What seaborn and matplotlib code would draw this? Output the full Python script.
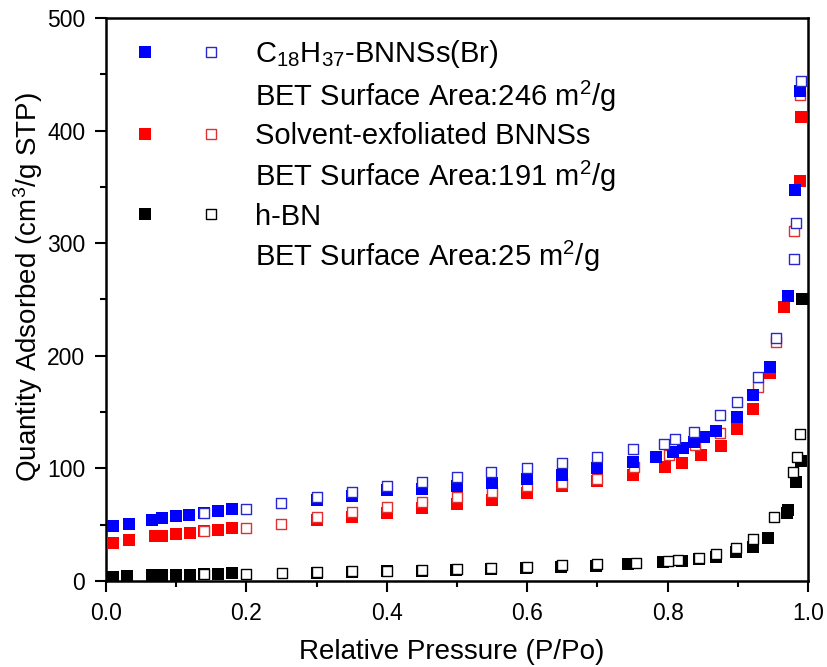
import matplotlib
matplotlib.use("Agg")
import matplotlib.pyplot as plt
import seaborn as sns
from matplotlib.lines import Line2D
from matplotlib.legend_handler import HandlerTuple
from matplotlib.ticker import MultipleLocator

# C18H37-BNNSs(Br): adsorption (filled) / desorption (open)
c18_ads_x = [0.01, 0.033, 0.065, 0.08, 0.10, 0.118, 0.14, 0.16, 0.18,
             0.30, 0.35, 0.40, 0.45, 0.50, 0.55, 0.60, 0.65, 0.70, 0.75,
             0.783, 0.808, 0.822, 0.838, 0.851, 0.869, 0.898, 0.921, 0.945,
             0.971, 0.981, 0.989]
c18_ads_y = [49, 51, 54, 55.5, 57.5, 58.5, 60.5, 62, 64,
             72, 75.5, 80.5, 82, 84, 87, 90.5, 94, 100.5, 105.5,
             110.5, 114.5, 118.5, 123, 128, 133.5, 146, 165, 190,
             253, 347, 435]
c18_des_x = [0.99, 0.983, 0.98, 0.954, 0.929, 0.898, 0.874, 0.838, 0.811,
             0.795, 0.751, 0.70, 0.65, 0.60, 0.549, 0.50, 0.45, 0.40, 0.35,
             0.30, 0.249, 0.199, 0.14]
c18_des_y = [444, 318, 286, 216, 181, 159, 147, 132, 126,
             122, 117, 110.5, 105, 100.5, 96.5, 92.5, 88, 84.5, 79,
             74.5, 69, 64, 60.5]

# Solvent-exfoliated BNNSs
sol_ads_x = [0.01, 0.033, 0.07, 0.08, 0.10, 0.12, 0.14, 0.16, 0.18,
             0.30, 0.35, 0.40, 0.45, 0.50, 0.55, 0.60, 0.65, 0.70, 0.75,
             0.796, 0.821, 0.848, 0.876, 0.898, 0.921, 0.946, 0.966, 0.988, 0.99]
sol_ads_y = [34, 36, 39.5, 40, 41.5, 43, 44, 45.3, 47,
             54, 57, 60, 64.5, 68.5, 72, 78.5, 84, 89, 94,
             101, 105, 112, 120, 135, 152.5, 185, 243, 355, 412]
sol_des_x = [0.988, 0.98, 0.954, 0.929, 0.875, 0.839, 0.802, 0.752, 0.70,
             0.65, 0.60, 0.55, 0.50, 0.45, 0.40, 0.35, 0.30, 0.249, 0.199, 0.14]
sol_des_y = [432, 311, 212, 172, 131, 121, 111.5, 101.5, 90.5,
             87, 84, 79, 74.5, 70.5, 65.5, 61.5, 56.5, 51, 47, 44.5]

# h-BN
hbn_ads_x = [0.01, 0.03, 0.065, 0.08, 0.10, 0.12, 0.14, 0.16, 0.18,
             0.30, 0.35, 0.40, 0.45, 0.498, 0.548, 0.598, 0.648, 0.698, 0.744,
             0.794, 0.82, 0.844, 0.869, 0.897, 0.922, 0.943, 0.97, 0.972,
             0.983, 0.99, 0.991]
hbn_ads_y = [3.8, 4.5, 5, 5, 5.5, 5.6, 6, 6.2, 7,
             7.2, 8, 8.6, 9, 9.8, 10.5, 11.3, 12.5, 13.5, 14.8,
             17, 18, 19.5, 21, 26, 30, 38, 60, 63,
             88, 106.5, 250]
hbn_des_x = [0.988, 0.984, 0.979, 0.952, 0.922, 0.897, 0.869, 0.844, 0.815,
             0.80, 0.755, 0.70, 0.65, 0.60, 0.549, 0.50, 0.45, 0.40, 0.35,
             0.30, 0.25, 0.20, 0.14]
hbn_des_y = [130.5, 110, 97, 57, 37, 29, 24, 20.5, 18.6,
             18, 16.3, 14.8, 13.8, 12.3, 11.2, 10.7, 9.5, 9.2, 8.6,
             7.7, 7.1, 6.5, 6.2]

labels = ["C$_{18}$H$_{37}$-BNNSs(Br)", "BET Surface Area:246 m$^2$/g",
          "Solvent-exfoliated BNNSs", "BET Surface Area:191 m$^2$/g",
          "h-BN", "BET Surface Area:25 m$^2$/g"]

sns.set_theme(style="ticks")
plt.rcParams['font.family'] = ['Liberation Sans', 'DejaVu Sans']
plt.rcParams['mathtext.fontset'] = 'custom'
plt.rcParams['mathtext.rm'] = 'Liberation Sans'
plt.rcParams['mathtext.it'] = 'Liberation Sans:italic'
plt.rcParams['text.color'] = 'black'
plt.rcParams['axes.labelcolor'] = 'black'

fig, ax = plt.subplots(figsize=(8.28, 6.67), dpi=100)
fig.subplots_adjust(left=0.128, right=0.976, top=0.973, bottom=0.129)

FILL_S = 78
OPEN_S = 50

# name, ads x, ads y, des x, des y, fill colour, open edge colour
series = [
    ("sol", sol_ads_x, sol_ads_y, sol_des_x, sol_des_y, "#ff0000", "#e03030"),
    ("c18", c18_ads_x, c18_ads_y, c18_des_x, c18_des_y, "#0000ff", "#2828d0"),
    ("hbn", hbn_ads_x, hbn_ads_y, hbn_des_x, hbn_des_y, "#000000", "#000000"),
]
z = 3
for name, ax_x, ax_y, dx, dy, fc, ec in series:
    sns.scatterplot(x=ax_x, y=ax_y, marker="s", s=FILL_S, color=fc,
                    edgecolor=fc, linewidth=0, ax=ax, zorder=z)
    sns.scatterplot(x=dx, y=dy, marker="s", s=OPEN_S, color="white",
                    edgecolor=ec, linewidth=1.0, ax=ax, zorder=z + 1)
    z += 2

ax.set_xlim(0, 1.0)
ax.set_ylim(0, 500)
ax.xaxis.set_major_locator(MultipleLocator(0.2))
ax.xaxis.set_minor_locator(MultipleLocator(0.1))
ax.yaxis.set_major_locator(MultipleLocator(100))
ax.yaxis.set_minor_locator(MultipleLocator(50))
ax.tick_params(which="major", direction="out", length=8, width=1.5,
               labelsize=16.5, pad=7, color="black", labelcolor="black")
ax.tick_params(which="minor", direction="out", length=4.5, width=1.5, color="black")
for sp in ax.spines.values():
    sp.set_linewidth(1.8)
    sp.set_color("black")

ax.set_xlabel("Relative Pressure (P/Po)", fontsize=20)
ax.set_ylabel("Quantity Adsorbed (cm$^3$/g STP)", fontsize=20)
ax.xaxis.set_label_coords(0.493, -0.103)
ax.yaxis.set_label_coords(-0.087, 0.522)


def sq(fc, ec, lw, ms):
    return Line2D([], [], ls="", marker="s", ms=ms, mfc=fc, mec=ec, mew=lw)


blank = Line2D([], [], ls="", marker="")
handles = [
    (sq("#0000ff", "#0000ff", 0, 8.8), sq("white", "#2828d0", 1.0, 7)), blank,
    (sq("#ff0000", "#ff0000", 0, 8.8), sq("white", "#e03030", 1.0, 7)), blank,
    (sq("black", "black", 0, 8.8), sq("white", "black", 1.0, 7)), blank,
]
ax.legend(handles, labels, handler_map={tuple: HandlerTuple(ndivide=None, pad=0)},
          loc="upper left", bbox_to_anchor=(0.0085, 0.964), borderaxespad=0,
          borderpad=0, frameon=False, fontsize=21, handlelength=4.525,
          handletextpad=0.377, labelspacing=0.29)

fig.savefig("out.png", dpi=100)
